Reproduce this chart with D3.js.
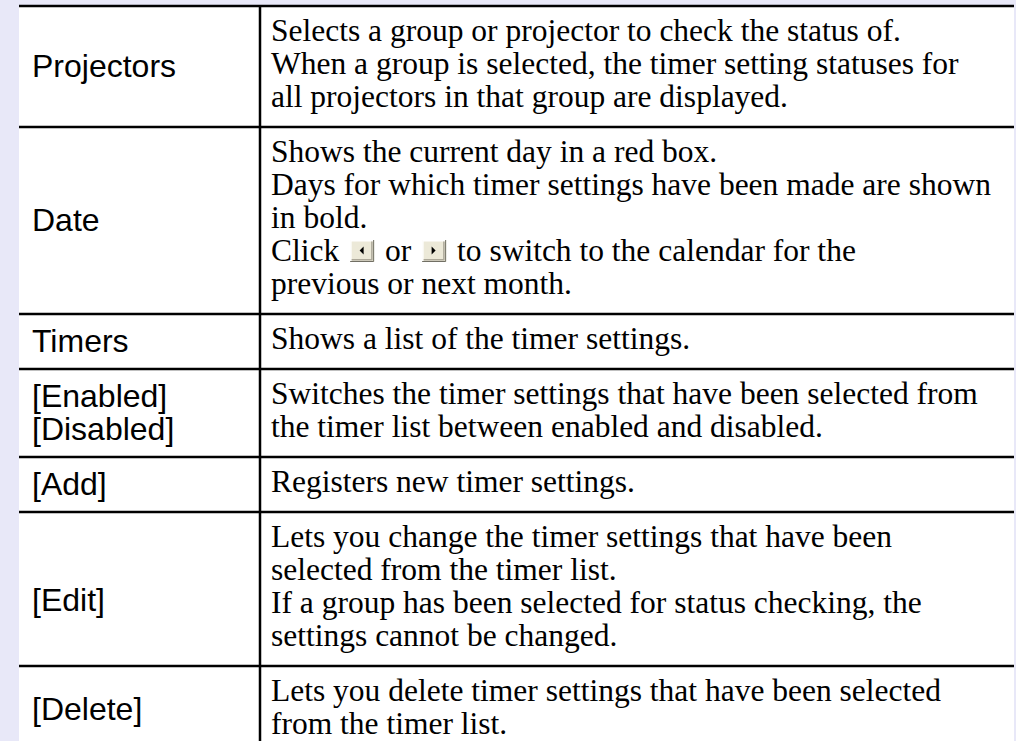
<!DOCTYPE html>
<html><head><meta charset="utf-8">
<script src="https://cdn.jsdelivr.net/npm/d3@7"></script>
<style>html,body{margin:0;padding:0;background:#e8e8f8;overflow:hidden}</style>
</head><body><svg id="c" width="1016" height="741"></svg>
<script>
// ---- data ----
const labels = [
  ["Projectors"],
  ["Date"],
  ["Timers"],
  ["[Enabled]", "[Disabled]"],
  ["[Add]"],
  ["[Edit]"],
  ["[Delete]"]
];
const descriptions = [
  ["Selects a group or projector to check the status of.",
   "When a group is selected, the timer setting statuses for",
   "all projectors in that group are displayed."],
  ["Shows the current day in a red box.",
   "Days for which timer settings have been made are shown",
   "in bold.",
   "Click {prev} or {next} to switch to the calendar for the",
   "previous or next month."],
  ["Shows a list of the timer settings."],
  ["Switches the timer settings that have been selected from",
   "the timer list between enabled and disabled."],
  ["Registers new timer settings."],
  ["Lets you change the timer settings that have been",
   "selected from the timer list.",
   "If a group has been selected for status checking, the",
   "settings cannot be changed."],
  ["Lets you delete timer settings that have been selected",
   "from the timer list."]
];

// ---- layout ----
const W = 1016, H = 741;
const tableLeft = 19, tableRight = 1014, tableTop = 6, divX = 260;
const lineStep = 33, padTop = 26, padBottom = 29;
const labelShift = [0, 0, 0, 0, 0, 12, 0];
const serif = "'Liberation Serif','Times New Roman',serif";
const sans = "'Liberation Sans',Arial,sans-serif";
const fs = 31.5, lfs = 32;

const heights = descriptions.map(d => padTop + (d.length - 1) * lineStep + padBottom);
const tops = [];
heights.reduce((acc, h) => { tops.push(acc); return acc + h; }, tableTop);

const svg = d3.select("#c");
svg.append("rect").attr("width", W).attr("height", H).attr("fill", "#e8e8f8");
svg.append("rect").attr("x", tableLeft).attr("y", tableTop)
  .attr("width", tableRight - tableLeft).attr("height", H - tableTop).attr("fill", "#fff");

const rows = svg.selectAll("g.row").data(descriptions.map((d, i) => ({desc: d, label: labels[i], top: tops[i], h: heights[i], shift: labelShift[i]})))
  .join("g").attr("class", "row");

rows.append("line")
  .attr("x1", tableLeft).attr("x2", tableRight)
  .attr("y1", d => d.top).attr("y2", d => d.top)
  .attr("stroke", "#000").attr("stroke-width", 2.5);

rows.each(function(d) {
  const g = d3.select(this);
  const mid = d.top + d.h / 2 - (d.label.length - 1) * lineStep / 2 + d.shift;
  d.label.forEach((t, j) => {
    g.append("text").attr("x", 32).attr("y", mid + j * lineStep + 10)
      .attr("font-family", sans).attr("font-size", lfs).attr("fill", "#000").text(t);
  });
  d.desc.forEach((t, j) => {
    const y = d.top + padTop + j * lineStep;
    const parts = t.split(/(\{prev\}|\{next\})/);
    let x = 271;
    parts.forEach(p => {
      if (p === "{prev}" || p === "{next}") {
        const bw = 24, bh = 22, by = y - 12;
        const b = g.append("g").attr("transform", `translate(${x + 3},${by})`);
        b.append("rect").attr("width", bw).attr("height", bh).attr("fill", "#ece9d8");
        b.append("path").attr("d", `M0.75,${bh} V0.75 H${bw}`).attr("fill", "none").attr("stroke", "#fff").attr("stroke-width", 1.5);
        b.append("path").attr("d", `M1.5,${bh - 2.25} H${bw - 2.25} V1.5`).attr("fill", "none").attr("stroke", "#aca899").attr("stroke-width", 1.5);
        b.append("path").attr("d", `M0,${bh - 0.5} H${bw - 0.5} V0`).attr("fill", "none").attr("stroke", "#716f64").attr("stroke-width", 1);
        const cx = bw / 2 - 0.5, cy = bh / 2 - 0.5;
        const tri = p === "{prev}"
          ? `M${cx + 2},${cy - 4} L${cx - 2},${cy} L${cx + 2},${cy + 4}Z`
          : `M${cx - 2},${cy - 4} L${cx + 2},${cy} L${cx - 2},${cy + 4}Z`;
        b.append("path").attr("d", tri).attr("fill", "#000");
        x += bw + 6;
      } else if (p.length) {
        const tx = g.append("text").attr("x", x).attr("y", y + 9)
          .attr("font-family", serif).attr("font-size", fs).attr("fill", "#000")
          .attr("xml:space", "preserve").style("white-space", "pre").text(p);
        x += tx.node().getComputedTextLength();
      }
    });
  });
});

svg.append("line").attr("x1", divX).attr("x2", divX).attr("y1", tableTop).attr("y2", H)
  .attr("stroke", "#000").attr("stroke-width", 2.5);
</script>
</body></html>
